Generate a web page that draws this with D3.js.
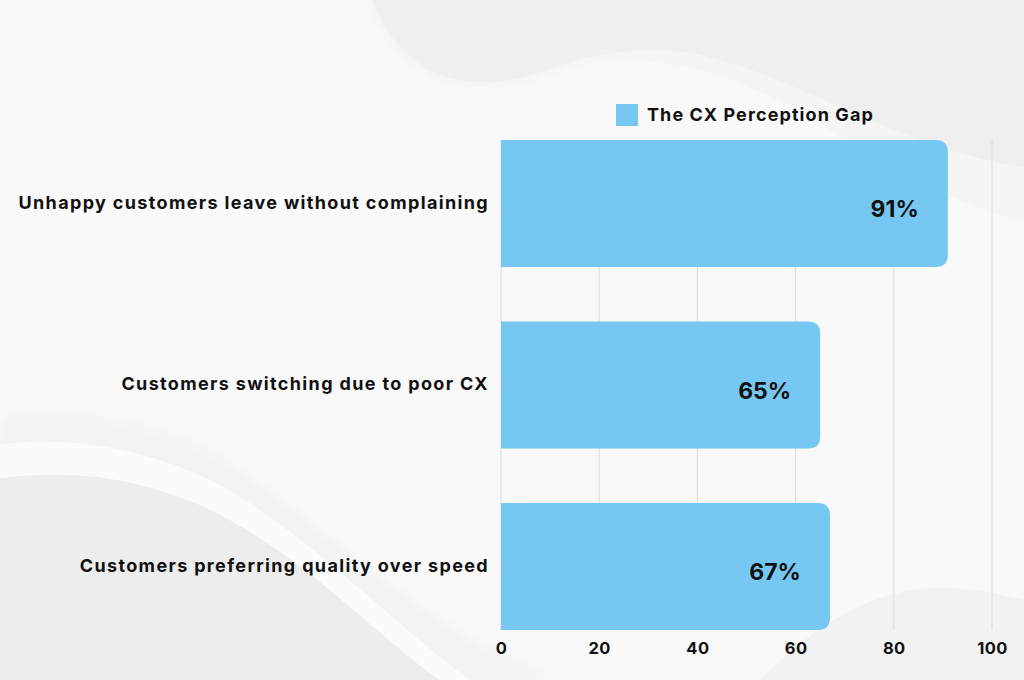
<!DOCTYPE html>
<html><head><meta charset="utf-8">
<script src="https://cdn.jsdelivr.net/npm/d3@7"></script>
<style>
html,body{margin:0;padding:0;background:#f9f9f9;}
svg{display:block;}
text{font-family:Inter, "Open Sans", sans-serif;font-weight:700;fill:#111;}
</style></head>
<body>
<svg id="c" width="1024" height="680"></svg>
<script>
const categories = ["Unhappy customers leave without complaining","Customers switching due to poor CX","Customers preferring quality over speed"];
const values = [91, 65, 67];
const valueLabels = ["91%","65%","67%"];
const seriesName = "The CX Perception Gap";
const tickValues = [0,20,40,60,80,100];

const W=1024,H=680;
const svg=d3.select("#c");

// background
const defs=svg.append("defs");
const f=defs.append("filter").attr("id","blur").attr("x","-20%").attr("y","-20%").attr("width","140%").attr("height","140%");
f.append("feGaussianBlur").attr("stdDeviation",6);
svg.append("rect").attr("width",W).attr("height",H).attr("fill","#f9f9f9");
const bg=svg.append("g");
// top-right gray shape
bg.append("path").attr("d","M372,0 C395,55 430,82 485,82 C540,82 560,55 640,50 C760,45 860,140 1024,168 L1024,0 Z").attr("fill","#efefef").attr("filter","url(#blur)");
bg.append("path").attr("d","M372,0 C395,55 430,82 485,82 C540,82 560,55 640,50 C760,45 860,140 1024,168 L1024,0 Z").attr("fill","#efefef");
bg.append("path").attr("d","M555,62 C640,48 740,70 830,130 C900,175 960,205 1024,222 L1024,168 C860,140 760,45 640,50 Z").attr("fill","#f5f5f5");
// bottom-left gray
bg.append("path").attr("d","M0,420 C80,410 160,420 240,470 C330,530 420,620 520,665 C560,680 560,680 560,680 L0,680 Z").attr("fill","#f3f3f3").attr("filter","url(#blur)");
bg.append("path").attr("d","M0,478 C80,468 140,480 200,505 C300,550 380,640 440,680 L0,680 Z").attr("fill","#ededed");
bg.append("path").attr("d","M0,444 C80,436 150,450 220,485 C310,535 400,630 470,680 L440,680 C380,640 300,550 200,505 C140,480 80,468 0,478 Z").attr("fill","#fbfbfb");
// bottom-right wave
bg.append("path").attr("d","M760,680 C820,620 880,585 950,588 C985,590 1005,596 1024,600 L1024,680 Z").attr("fill","#f2f2f2");

const x=d3.scaleLinear().domain([0,100]).range([501,992]);
const y=d3.scaleBand().domain(categories).range([140,630]).paddingInner(0.3).paddingOuter(0);

// gridlines
const g=svg.append("g");
g.selectAll("line.grid").data(tickValues).join("line")
 .attr("x1",d=>x(d)).attr("x2",d=>x(d)).attr("y1",140).attr("y2",630)
 .attr("stroke","#dcdcdc").attr("stroke-width",1);

// bars with rounded right corners
const r=12;
function barPath(d,i){
  const x0=x(0), x1=x(d), y0=y(categories[i]), h=y.bandwidth();
  return `M${x0},${y0} H${x1-r} Q${x1},${y0} ${x1},${y0+r} V${y0+h-r} Q${x1},${y0+h} ${x1-r},${y0+h} H${x0} Z`;
}
g.selectAll("path.bar").data(values).join("path").attr("class","bar")
 .attr("d",barPath).attr("fill","#76c8f2");

// value labels
g.selectAll("text.val").data(values).join("text")
 .attr("x",(d)=>x(d)-29).attr("y",(d,i)=>y(categories[i])+y.bandwidth()/2+13.5)
 .attr("text-anchor","end").style("font-size","23px")
 .text((d,i)=>valueLabels[i]);

// category labels
const yAxis=d3.axisLeft(y).tickSize(0).tickPadding(12);
const ya=svg.append("g").attr("transform","translate(501,0)").call(yAxis);
ya.select(".domain").remove();
ya.selectAll("text").style("font-size","18px").style("font-family","Inter, sans-serif").style("font-weight","700")
  .style("letter-spacing","1.35px").attr("fill","#111").attr("dy","0.3em");

// x axis
const xAxis=d3.axisBottom(x).tickValues(tickValues).tickSize(0).tickPadding(12);
const xa=svg.append("g").attr("transform","translate(0,630)").call(xAxis);
xa.select(".domain").remove();
xa.selectAll("text").style("font-size","16.5px").style("font-family","Inter, sans-serif").style("font-weight","700")
  .style("letter-spacing","0.4px").attr("fill","#111");

// legend
const lg=svg.append("g");
lg.append("rect").attr("x",616).attr("y",104).attr("width",22).attr("height",22).attr("fill","#76c8f2");
lg.append("text").attr("x",647).attr("y",121).style("font-size","18px").style("letter-spacing","1.1px").text(seriesName);
</script>
</body></html>
